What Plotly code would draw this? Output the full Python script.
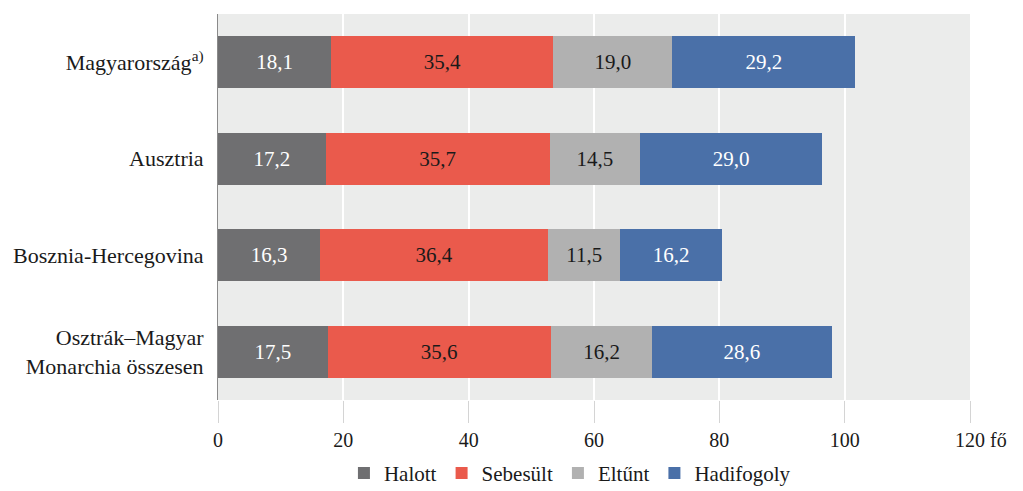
import plotly.graph_objects as go

categories = ["Magyarország<sup>a)</sup>", "Ausztria", "Bosznia-Hercegovina",
              "Osztrák–Magyar<br>Monarchia összesen"]
series_names = ["Halott", "Sebesült", "Eltűnt", "Hadifogoly"]
halott = [18.1, 17.2, 16.3, 17.5]
sebesult = [35.4, 35.7, 36.4, 35.6]
eltunt = [19.0, 14.5, 11.5, 16.2]
hadifogoly = [29.2, 29.0, 16.2, 28.6]
tick_vals = [0, 20, 40, 60, 80, 100, 120]
tick_labels = ["0", "20", "40", "60", "80", "100", "120"]
unit = "fő"

colors = ["#6f6f71", "#ea5a4c", "#b1b1b1", "#4a70a8"]
text_colors = ["white", "#1a1a1a", "#1a1a1a", "white"]

FONT = "Liberation Serif, DejaVu Serif, serif"

fig = go.Figure()
for name, vals, c, tc in zip(series_names, [halott, sebesult, eltunt, hadifogoly], colors, text_colors):
    fig.add_trace(go.Bar(
        y=categories, x=vals, name=name, orientation="h",
        marker=dict(color=c, line=dict(width=0)),
        text=[f"{v:.1f}".replace(".", ",") for v in vals],
        textposition="inside", insidetextanchor="middle",
        textfont=dict(family=FONT, size=21, color=tc),
        hoverinfo="skip",
    ))

fig.update_layout(
    barmode="stack",
    bargap=0.46,
    width=1023, height=491,
    margin=dict(l=218, r=53, t=14, b=91, autoexpand=False),
    paper_bgcolor="white",
    plot_bgcolor="#ebeceb",
    font=dict(family=FONT, size=20, color="#1a1a1a"),
    showlegend=True,
    legend=dict(orientation="h", x=0.468, xanchor="center",
                y=0.036, yanchor="middle", yref="container",
                font=dict(family=FONT, size=21, color="#1a1a1a"),
                itemsizing="constant", traceorder="normal", itemwidth=30),
    uniformtext=dict(mode="show", minsize=10),
)
fig.update_xaxes(
    range=[0, 120], tickvals=tick_vals, ticktext=tick_labels,
    showgrid=True, gridcolor="white", gridwidth=2,
    zeroline=False, showline=False,
    ticks="outside", ticklen=22, tickcolor="#d4d4d4", tickwidth=1,
    tickfont=dict(family=FONT, size=20, color="#1a1a1a"),
    automargin=False,
    fixedrange=True,
)
fig.update_yaxes(
    autorange="reversed",
    showline=True, linecolor="#8a8a8a", linewidth=1,
    showgrid=False, ticks="", ticklabelstandoff=9,
    tickfont=dict(family=FONT, size=22, color="#1a1a1a"),
    automargin=False,
    fixedrange=True,
)
fig.add_annotation(x=120, y=0, xref="x", yref="paper", text=unit, showarrow=False,
                   xanchor="left", yanchor="top", xshift=18, yshift=-27,
                   font=dict(family=FONT, size=20, color="#1a1a1a"))

fig.write_html("out.html", config={"displayModeBar": False},
               post_script="document.body.style.margin='0';")
